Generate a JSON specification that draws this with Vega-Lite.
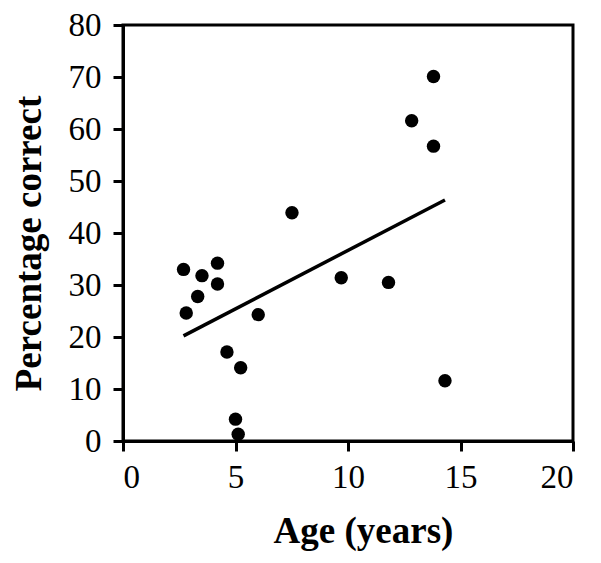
{
  "$schema": "https://vega.github.io/schema/vega-lite/v6.json",
  "autosize": "none",
  "width": 450,
  "height": 416,
  "padding": {"left": 123, "top": 25, "right": 28, "bottom": 122},
  "background": "white",
  "config": {
    "view": {"stroke": "black", "strokeWidth": 3},
    "font": "Liberation Serif"
  },
  "data": {
    "values": [
      {"age": 2.69, "pct": 33.0},
      {"age": 3.51, "pct": 31.8},
      {"age": 4.20, "pct": 34.2},
      {"age": 4.20, "pct": 30.2},
      {"age": 3.32, "pct": 27.8},
      {"age": 2.81, "pct": 24.6},
      {"age": 6.01, "pct": 24.3},
      {"age": 7.51, "pct": 43.9},
      {"age": 9.70, "pct": 31.4},
      {"age": 4.62, "pct": 17.1},
      {"age": 5.23, "pct": 14.1},
      {"age": 5.00, "pct": 4.2},
      {"age": 5.12, "pct": 1.3},
      {"age": 13.80, "pct": 70.1},
      {"age": 12.83, "pct": 61.6},
      {"age": 13.80, "pct": 56.7},
      {"age": 11.80, "pct": 30.5},
      {"age": 14.31, "pct": 11.6}
    ]
  },
  "encoding": {
    "x": {
      "field": "age", "type": "quantitative",
      "scale": {"domain": [0, 20], "nice": false},
      "axis": {
        "values": [0, 5, 10, 15, 20],
        "gridOpacity": 0,
        "domainColor": "black",
        "domainWidth": 3,
        "tickColor": "#000001",
        "tickWidth": 3,
        "tickSize": 10,
        "tickOpacity": 1,
        "labelFont": "Liberation Serif",
        "labelFontSize": 33,
        "labelColor": "black",
        "labelPadding": 10,
        "title": "Age (years)",
        "titleFont": "Liberation Serif",
        "titleFontSize": 37,
        "titleFontWeight": "bold",
        "titleColor": "black",
        "titleX": 240,
        "titleY": 101,
        "titleAlign": "center",
        "titleBaseline": "alphabetic"
      }
    },
    "y": {
      "field": "pct", "type": "quantitative",
      "scale": {"domain": [0, 80], "nice": false},
      "axis": {
        "values": [0, 10, 20, 30, 40, 50, 60, 70, 80],
        "gridOpacity": 0,
        "domainColor": "black",
        "domainWidth": 3,
        "tickColor": "#000001",
        "tickWidth": 3,
        "tickSize": 10,
        "tickOpacity": 1,
        "labelFont": "Liberation Serif",
        "labelFontSize": 33,
        "labelColor": "black",
        "labelPadding": 12,
        "title": "Percentage correct",
        "titleFont": "Liberation Serif",
        "titleFontSize": 37,
        "titleFontWeight": "bold",
        "titleColor": "black",
        "titleAngle": -90,
        "titleX": -83,
        "titleY": 218,
        "titleAlign": "center",
        "titleBaseline": "alphabetic"
      }
    }
  },
  "layer": [
    {
      "mark": {"type": "point", "filled": true, "color": "black", "opacity": 1, "size": 180}
    },
    {
      "transform": [{"regression": "pct", "on": "age"}],
      "mark": {"type": "line", "color": "black", "strokeWidth": 3.5}
    }
  ]
}
